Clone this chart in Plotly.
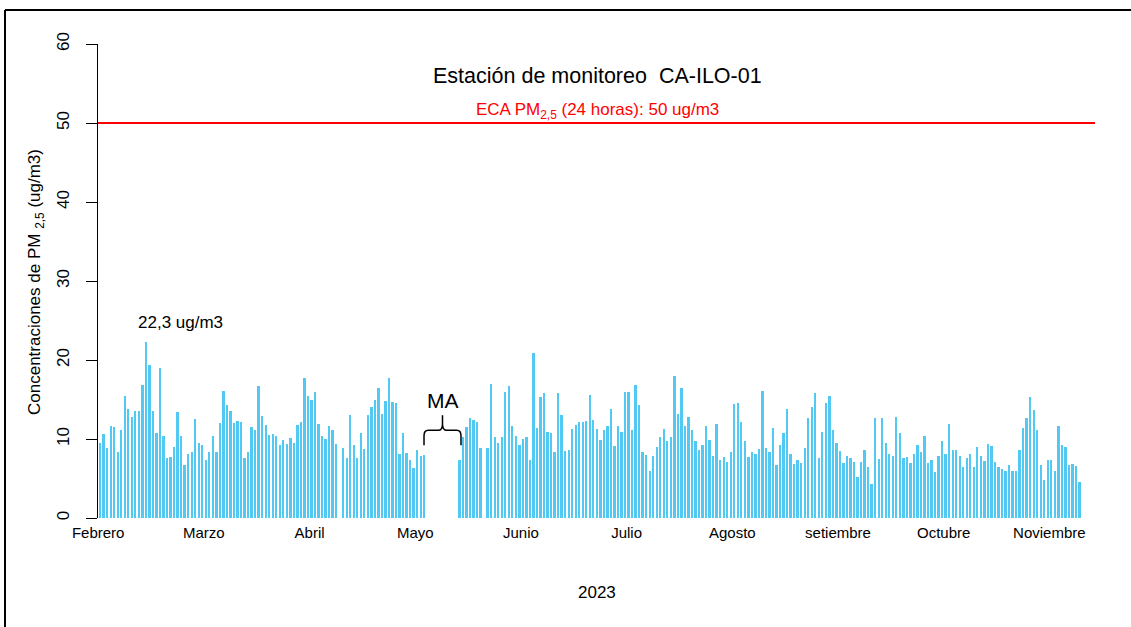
import plotly.graph_objects as go

# ---- data -------------------------------------------------------------
# daily PM2.5 (ug/m3), consecutive days starting 2023-02-01; None = no data
pm25 = [
    9.5, 10.6, 8.8, 11.6, 11.5, 8.4, 11.2, 15.5, 13.8, 12.8, 13.5, 13.5, 16.8, 22.3,
    19.4, 13.5, 10.8, 19.0, 10.4, 7.6, 7.7, 9.0, 13.4, 10.4, 6.7, 8.1, 8.3, 12.5,
    9.5, 9.2, 7.4, 8.4, 10.4, 8.3, 12.0, 16.1, 14.3, 13.6, 12.0, 12.3, 12.1, 7.6,
    8.4, 11.5, 11.2, 16.7, 12.9, 11.8, 10.5, 10.6, 10.4, 9.2, 9.9, 9.4, 10.1, 9.5,
    11.8, 12.1, 17.7, 15.5, 14.9, 15.9, 11.9, 10.4, 10.0, 11.6, 11.2, 9.4, None,
    8.8, 7.6, 13.0, 9.3, 7.6, 10.8, 8.7, 13.0, 14.0, 15.0, 16.5, 13.2, 14.8, 17.7,
    14.7, 14.6, 8.1, 10.8, 8.2, 7.4, 6.3, 8.6, 7.9, 8.0,
    None, None, None, None, None, None, None, None, None,
    7.3, 10.3, 11.5, 12.7, 12.4, 12.1, 8.8, None,
    8.9, 16.9, 10.3, 9.5, 10.3, 15.9, 16.7, 11.6, 10.4, 9.3, 10.0, 10.2, 7.3, 20.9,
    11.4, 15.3, 15.8, 10.9, 10.7, 8.4, 15.8, 13.0, 8.5, 8.6, 11.3, 11.8, 12.2, 12.1,
    12.3, 15.6, 12.4, 11.3, 9.9, 11.2, 11.6, 13.8, 9.1, 11.6,
    10.9, 15.9, 15.9, 11.1, 16.8, 14.3, 8.3, 8.0, 5.9, 7.8, 9.0, 10.3, 11.3, 9.8,
    10.3, 18.0, 13.2, 16.4, 11.7, 12.8, 11.1, 9.7, 8.6, 9.2, 11.7, 9.9, 7.8, 11.9,
    7.4, 7.7, 7.1, 8.3, 14.4, 14.6, 12.2, 9.7, 7.7, 8.3, 8.1, 8.7, 16.1, 8.8, 8.4,
    11.4, 6.7, 9.2, 10.8, 13.8, 8.1, 6.8, 7.4, 7.0,
    8.8, 12.7, 14.0, 15.8, 7.6, 10.9, 14.6, 15.5, 11.1, 9.5, 8.5, 7.0, 7.8, 7.6,
    7.1, 5.2, 7.1, 8.6, 6.5, 4.3, 12.7, 7.5, 12.7, 9.5, 8.1, 7.9, 12.8, 10.8, 7.6,
    7.7, 6.9, 8.1, 9.2, 8.3, 10.4, 6.9, 7.3, 5.8, 7.8, 9.7, 8.1, 11.9, 8.6, 8.6,
    7.8, 6.5, 7.6, 8.1, 6.5, 9.0, 7.8,
    7.2, 9.4, 9.1, 7.1, 6.5, 6.2, 5.9, 6.7, 6.0, 6.0, 8.6, 11.4, 12.7, 15.3, 13.7,
    11.2, 6.7, 4.8, 7.3, 7.4, 5.9, 11.6, 9.2, 9.0, 6.7, 6.8, 6.6, 4.5,
]
day_index = list(range(1, len(pm25) + 1))

month_labels = ["Febrero", "Marzo", "Abril", "Mayo", "Junio", "Julio",
                "Agosto", "setiembre", "Octubre", "Noviembre"]
month_label_days = [1, 31, 61, 91, 121, 151, 181, 211, 241, 271]
label_offset = -0.55   # labels sit slightly left of the bar centre

eca_limit = 50
y_ticks = [0, 10, 20, 30, 40, 50, 60]
max_value = max(v for v in pm25 if v is not None)
max_day = pm25.index(max_value) + 1
missing_start, missing_end = 94, 102   # "MA" gap

# ---- layout geometry ---------------------------------------------------
W, H = 1131, 627
L, R, T, B = 98, 36, 44, 109
pw, ph = W - L - R, H - T - B
x_lo, x_hi = 0.404, 283.4
y_lo, y_hi = 0, 60

def px2paper_x(px):
    return (px - L) / pw

def py2paper_y(py):
    return (H - B - py) / ph

FONT = "Liberation Sans, Arial, Helvetica, sans-serif"
BAR = "#52C9F2"

fig = go.Figure()
fig.add_trace(go.Bar(
    x=day_index, y=pm25, width=0.66,
    marker=dict(color=BAR, line=dict(width=0)),
    hoverinfo="x+y", showlegend=False,
))

shapes = []
# ECA limit line
shapes.append(dict(type="line", xref="paper", yref="y", x0=0, x1=1,
                   y0=eca_limit, y1=eca_limit, line=dict(color="#FF0000", width=2)))
# outer frame (only left and top edges are visible in the picture)
shapes.append(dict(type="line", xref="paper", yref="paper",
                   x0=px2paper_x(5), x1=px2paper_x(5),
                   y0=py2paper_y(10), y1=py2paper_y(640),
                   line=dict(color="black", width=2), layer="above"))
shapes.append(dict(type="line", xref="paper", yref="paper",
                   x0=px2paper_x(5), x1=px2paper_x(1140),
                   y0=py2paper_y(10), y1=py2paper_y(10),
                   line=dict(color="black", width=2), layer="above"))
# curly brace over missing-data gap
x0 = missing_start - 1.06
x1 = missing_end + 1.44
xm = (x0 + x1) / 2
r = 1.2
yh, yb, yt = 11.1, 9.2, 13.0
path = (f"M {x0},{yb} L {x0},{yh-0.7} Q {x0},{yh} {x0+r},{yh} "
        f"L {xm-r},{yh} Q {xm},{yh} {xm},{yh+0.8} L {xm},{yt} "
        f"M {xm},{yh+0.8} Q {xm},{yh} {xm+r},{yh} "
        f"L {x1-r},{yh} Q {x1},{yh} {x1},{yh-0.7} L {x1},{yb}")
shapes.append(dict(type="path", xref="x", yref="y", path=path,
                   line=dict(color="black", width=1.5)))

annotations = [
    dict(text="Estación de monitoreo  CA-ILO-01", xref="paper", yref="paper",
         x=px2paper_x(597), y=py2paper_y(76), showarrow=False,
         xanchor="center", yanchor="middle",
         font=dict(family=FONT, size=21.5, color="black")),
    dict(text="ECA PM<sub>2,5</sub> (24 horas): 50 ug/m3", xref="paper", yref="paper",
         x=px2paper_x(597), y=py2paper_y(111), showarrow=False,
         xanchor="center", yanchor="middle",
         font=dict(family=FONT, size=17, color="#FF0000")),
    dict(text=f"{max_value:.1f}".replace(".", ",") + " ug/m3", xref="x", yref="y",
         x=max_day + 9.8, y=24.7, showarrow=False,
         xanchor="center", yanchor="middle",
         font=dict(family=FONT, size=17, color="black")),
    dict(text="MA", xref="x", yref="y", x=xm, y=(517.7 - 400.5) / 7.9,
         showarrow=False, xanchor="center", yanchor="middle",
         font=dict(family=FONT, size=21, color="black")),
    dict(text="2023", xref="paper", yref="paper",
         x=px2paper_x(597), y=py2paper_y(592), showarrow=False,
         xanchor="center", yanchor="middle",
         font=dict(family=FONT, size=17, color="black")),
    dict(text="Concentraciones de PM <sub>2,5</sub> (ug/m3)", xref="paper", yref="paper",
         x=px2paper_x(36), y=py2paper_y(282), showarrow=False, textangle=-90,
         xanchor="center", yanchor="middle",
         font=dict(family=FONT, size=17, color="black")),
]

fig.update_layout(
    width=W, height=H,
    margin=dict(l=L, r=R, t=T, b=B, pad=0),
    paper_bgcolor="white", plot_bgcolor="white",
    bargap=0,
    shapes=shapes, annotations=annotations,
    font=dict(family=FONT, color="black"),
    xaxis=dict(range=[x_lo, x_hi], tickmode="array",
               tickvals=[d + label_offset for d in month_label_days],
               ticktext=month_labels,
               showgrid=False, zeroline=False, showline=False,
               ticks="", ticklabelstandoff=4,
               tickfont=dict(family=FONT, size=15, color="black")),
    yaxis=dict(range=[y_lo, y_hi], tickmode="array", tickvals=y_ticks,
               showgrid=False, zeroline=False, showline=True,
               linecolor="black", linewidth=1,
               ticks="outside", ticklen=11, tickcolor="black", tickwidth=1,
               tickangle=-90, ticklabelstandoff=10,
               tickfont=dict(family=FONT, size=17, color="black")),
)

fig.write_html(
    "out.html",
    config={"displayModeBar": False},
    post_script="document.body.style.margin='0';document.body.style.overflow='hidden';",
)
